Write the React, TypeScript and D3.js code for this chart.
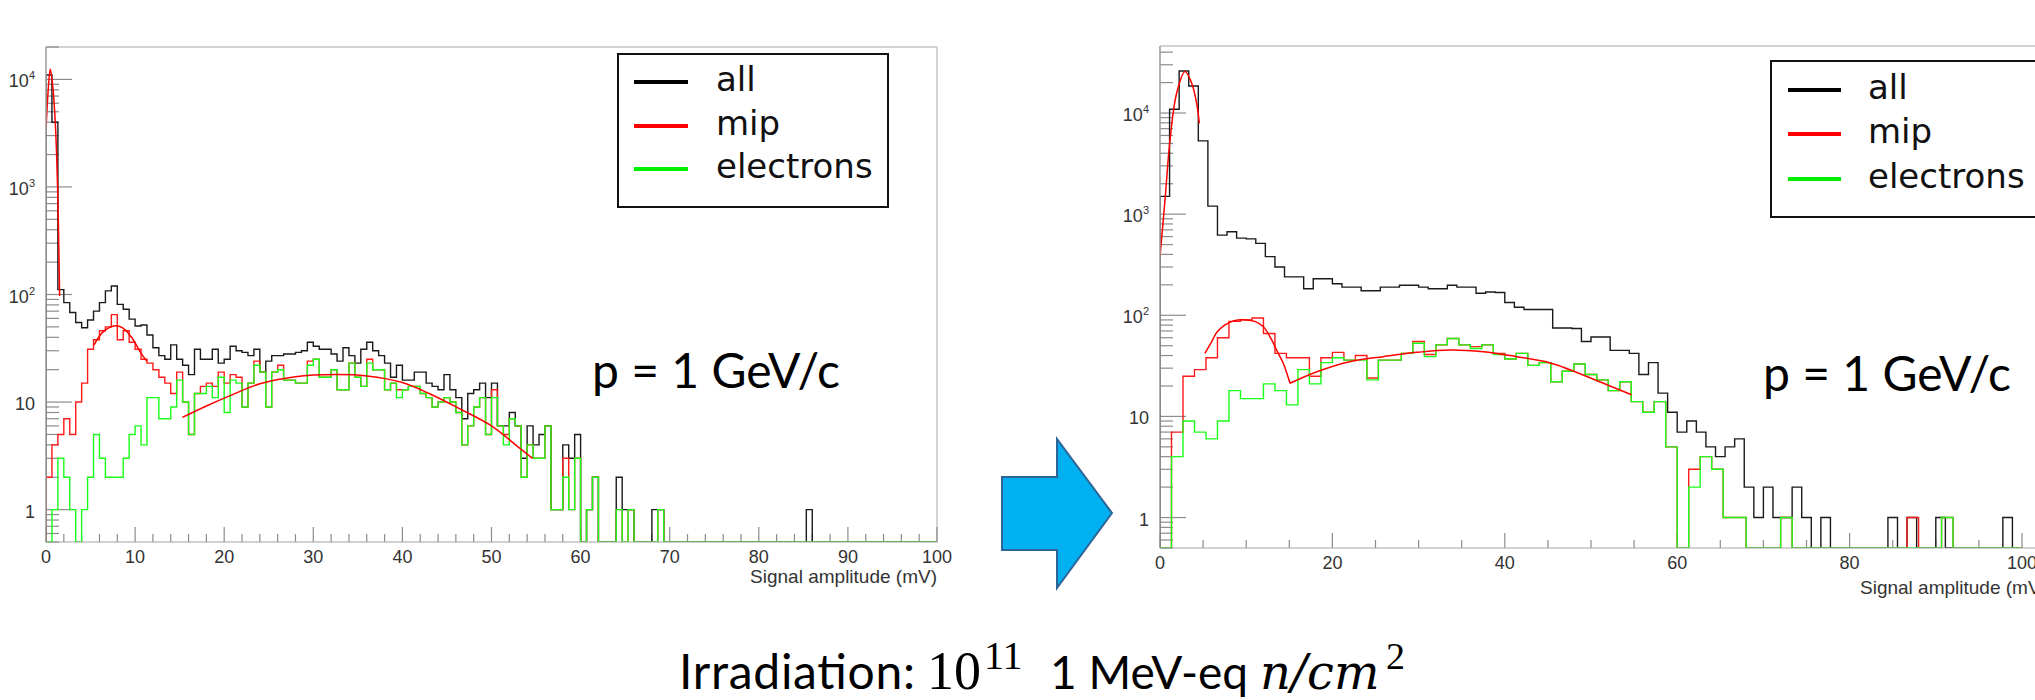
import React from 'react';
import * as d3 from 'd3';

// ---- left panel (before irradiation), 150 bins of 0-100 mV ----
const leftAll = [
  11000, 4000, 111, 84, 68, 55, 49, 58, 70, 84,
  108, 120, 81, 73, 59, 51, 52, 42, 32, 27,
  25, 34, 25, 22, 18, 31, 25, 25, 31, 23,
  25, 33, 30, 29, 27, 31, 19, 24, 27, 27,
  28, 28, 29, 30, 36, 33, 31, 31, 28, 24,
  32, 27, 23, 31, 36, 30, 27, 23, 17, 22,
  16, 16, 19, 19, 15, 14, 13, 18, 13, 11,
  7, 12, 13, 15, 11, 15, 6, 6, 8, 6,
  3, 6, 4, 5, 6, 1, 1, 4, 3, 5,
  0, 1, 2, 0, 0, 0, 2, 1, 1, 0,
  0, 0, 1, 1, 0, 0, 0, 0, 0, 0,
  0, 0, 0, 0, 0, 0, 0, 0, 0, 0,
  0, 0, 0, 0, 0, 0, 0, 0, 1, 0,
  0, 0, 0, 0, 0, 0, 0, 0, 0, 0,
  0, 0, 0, 0, 0, 0, 0, 0, 0, 0,
];
const leftMip = [
  2, 4, 5, 7, 5, 10, 15, 31, 38, 46,
  50, 65, 38, 46, 36, 31, 25, 23, 20, 17,
  15, 12, 19, 10, 5, 12, 14, 15, 14, 19,
  15, 18, 17, 9, 15, 24, 19, 9, 19, 22,
  16, 16, 15, 15, 24, 25, 17, 17, 20, 13,
  13, 23, 17, 14, 25, 20, 20, 13, 15, 13,
  13, 14, 14, 12, 11, 9, 10, 11, 10, 8,
  4, 6, 9, 11, 5, 13, 6, 5, 7, 6,
  2, 4, 3, 3, 6, 1, 1, 3, 1, 3,
  0, 1, 2, 0, 0, 0, 1, 0, 1, 0,
  0, 0, 0, 1, 0, 0, 0, 0, 0, 0,
  0, 0, 0, 0, 0, 0, 0, 0, 0, 0,
  0, 0, 0, 0, 0, 0, 0, 0, 0, 0,
  0, 0, 0, 0, 0, 0, 0, 0, 0, 0,
  0, 0, 0, 0, 0, 0, 0, 0, 0, 0,
];
const leftEle = [
  0, 1, 3, 2, 1, 0, 1, 2, 5, 3,
  2, 2, 2, 3, 5, 6, 4, 11, 11, 7,
  7, 9, 16, 10, 5, 12, 12, 14, 11, 17,
  8, 16, 15, 9, 15, 22, 19, 9, 19, 20,
  16, 16, 15, 15, 22, 25, 17, 17, 20, 13,
  13, 23, 17, 14, 23, 20, 20, 13, 15, 11,
  13, 14, 14, 12, 11, 9, 10, 11, 10, 8,
  4, 6, 9, 11, 5, 11, 6, 4, 7, 6,
  2, 4, 3, 3, 6, 1, 1, 2, 1, 3,
  0, 1, 2, 0, 0, 0, 1, 0, 1, 0,
  0, 0, 0, 1, 0, 0, 0, 0, 0, 0,
  0, 0, 0, 0, 0, 0, 0, 0, 0, 0,
  0, 0, 0, 0, 0, 0, 0, 0, 0, 0,
  0, 0, 0, 0, 0, 0, 0, 0, 0, 0,
  0, 0, 0, 0, 0, 0, 0, 0, 0, 0,
];
// fitted curves as [mV, counts]
const leftPedFit = [[0, 3400], [0.25, 8000], [0.48, 12500], [0.75, 8800], [1.04, 4000], [1.3, 1000], [1.53, 97]];
const leftMipFit = [[5.4, 34], [6.3, 44], [7.6, 51], [8.6, 49], [9.6, 40], [10.6, 29], [11.3, 24]];
const leftBroadFit = [[15.3, 7.2], [18, 9.2], [21, 11.8], [24, 14.8], [28, 17.2], [32.5, 18], [36, 17.5], [40, 15.2], [43, 12], [46.5, 8.6], [50, 6], [53.2, 3.7], [54.6, 3.0]];

// ---- right panel (after irradiation): all = 90 bins, mip/electrons = 75 bins ----
const rightAll = [
  1500, 10900, 26000, 18500, 5300, 1200, 620, 670, 580, 570,
  514, 380, 300, 240, 240, 183, 230, 230, 205, 190,
  190, 175, 175, 190, 190, 198, 198, 190, 183, 183,
  198, 190, 190, 165, 170, 168, 134, 120, 114, 114,
  114, 75, 75, 74, 55, 61, 61, 45, 45, 42,
  26, 34, 17, 11, 7, 9, 7, 5, 4, 5,
  6, 2, 1, 2, 1, 1, 2, 1, 0, 1,
  0, 0, 0, 0, 0, 0, 1, 0, 1, 0,
  0, 1, 0, 0, 0, 0, 0, 0, 1, 0,
];
const rightMip = [
  0, 7, 25, 29, 38, 60, 87, 90, 94, 66,
  42, 38, 38, 25, 38, 43, 36, 40, 24, 36,
  36, 42, 55, 41, 51, 59, 51, 49, 51, 42,
  37, 42, 32, 34, 22, 28, 33, 26, 23, 18,
  22, 14, 11, 14, 5, 0, 3, 4, 3, 1,
  1, 0, 0, 0, 1, 0, 0, 0, 0, 0,
  0, 0, 0, 0, 0, 1, 0, 0, 1, 0,
  0, 0, 0, 0, 0,
];
const rightEle = [
  0, 4, 9, 7, 6, 9, 18, 15, 15, 21,
  18, 13, 29, 21, 34, 38, 36, 36, 23, 36,
  36, 42, 53, 39, 51, 59, 51, 47, 51, 41,
  37, 42, 32, 34, 22, 28, 33, 26, 23, 18,
  22, 14, 11, 14, 5, 0, 2, 4, 3, 1,
  1, 0, 0, 0, 1, 0, 0, 0, 0, 0,
  0, 0, 0, 0, 0, 0, 0, 0, 1, 0,
  0, 0, 0, 0, 0,
];
const rightPedFit = [[0, 380], [0.58, 1380], [1.16, 5400], [1.93, 15700], [2.9, 25700], [3.67, 19800], [4.25, 12500], [4.56, 7900]];
const rightMipFit = [[5.2, 42], [6.0, 55], [6.6, 68], [7.5, 80], [8.5, 88], [10, 90], [11, 87], [12, 77], [12.96, 57], [13.6, 44], [14.3, 33.6], [15.08, 21.3]];
const rightBroadFit = [[15.08, 21.3], [18.2, 27.7], [22, 34.8], [25.9, 39], [29.8, 43], [33.6, 45.4], [37.5, 43.7], [41.4, 39], [45.2, 34], [47.4, 29.3], [51.3, 21.5], [54.7, 16.4]];

const legendLabels = ['all', 'mip', 'electrons'];
const legendColors = ['#000000', '#ff0000', '#00ee00'];

const tickFont = '"Liberation Sans", Arial, sans-serif';

function histPath(values, binW, x, y, yFloor) {
  const n = values.length;
  const pts = [[0, 0], ...values.map((v, i) => [i * binW, v]), [n * binW, values[n - 1]], [n * binW, 0]];
  return d3.line()
    .x(d => x(d[0]))
    .y(d => (d[1] > 0 ? y(d[1]) : yFloor))
    .curve(d3.curveStepAfter)(pts);
}

function fitPath(pts, x, y) {
  return d3.line().x(d => x(d[0])).y(d => y(d[1])).curve(d3.curveCatmullRom.alpha(0.5))(pts);
}

const supDigits = { 2: '2', 3: '3', 4: '4' };

function Panel({ id, x0, x1, yTop, yBot, yMax, frameRight, allData, mipData, eleData, allBin, subBin, fits, labelStep, minorStep, labelBase, titleX, titleY, titleAnchor }) {
  const x = d3.scaleLinear().domain([0, 100]).range([x0, x1]);
  const y = d3.scaleLog().domain([0.5, yMax]).range([yBot, yTop]);
  const yTicks = y.ticks();
  const xTicks = x.ticks(100 / minorStep);
  const isMajor = t => Math.abs(Math.log10(t) - Math.round(Math.log10(t))) < 1e-9;
  return (
    <g>
      <defs>
        <clipPath id={id}>
          <rect x={x0} y={yTop} width={frameRight - x0} height={yBot - yTop} />
        </clipPath>
      </defs>
      {/* frame */}
      <line x1={x0} x2={frameRight} y1={yTop} y2={yTop} stroke="#c4c4c4" strokeWidth={1.5} />
      {frameRight < 2035 && <line x1={frameRight} x2={frameRight} y1={yTop} y2={yBot} stroke="#c4c4c4" strokeWidth={1.5} />}
      {/* y ticks */}
      {yTicks.map(t => (
        <line key={'y' + t} x1={x0} x2={x0 + (isMajor(t) ? 26 : 13)} y1={y(t)} y2={y(t)} stroke="#8c8c8c" strokeWidth={1.2} />
      ))}
      {yTicks.filter(isMajor).map(t => {
        const p = Math.round(Math.log10(t));
        return (
          <text key={'yl' + t} x={x0 - 11} y={y(t) + 8} textAnchor="end" fontFamily={tickFont} fontSize={18} fill="#333">
            {p <= 1 ? String(t) : '10'}
            {p > 1 && <tspan fontSize={11} dy={-8}>{supDigits[p]}</tspan>}
          </text>
        );
      })}
      {/* x ticks */}
      {xTicks.map(t => (
        <line key={'x' + t} x1={x(t)} x2={x(t)} y1={yBot} y2={yBot - (t % labelStep === 0 ? 15 : 8)} stroke="#8c8c8c" strokeWidth={1.2} />
      ))}
      {xTicks.filter(t => t % labelStep === 0).map(t => (
        <text key={'xl' + t} x={x(t)} y={labelBase} textAnchor="middle" fontFamily={tickFont} fontSize={18} fill="#333">{t}</text>
      ))}
      <text x={titleX} y={titleY} textAnchor={titleAnchor} fontFamily={tickFont} fontSize={19} fill="#333">Signal amplitude (mV)</text>
      {/* histograms */}
      <g clipPath={`url(#${id})`} fill="none">
        <path d={histPath(allData, allBin, x, y, yBot)} stroke="#1a1a1a" strokeWidth={1.4} />
        <path d={histPath(mipData, subBin, x, y, yBot)} stroke="#ff1a1a" strokeWidth={1.4} />
        <path d={histPath(eleData, subBin, x, y, yBot)} stroke="#1aff1a" strokeWidth={1.4} />
        {fits.map((f, i) => (
          <path key={i} d={fitPath(f, x, y)} stroke="#ff0000" strokeWidth={1.5} />
        ))}
      </g>
      {/* axes */}
      <line x1={x0} x2={x0} y1={yTop} y2={yBot} stroke="#9a9a9a" strokeWidth={1.5} />
      <line x1={x0} x2={frameRight} y1={yBot} y2={yBot} stroke="#9a9a9a" strokeWidth={1.5} opacity={0.6} />
    </g>
  );
}

function Legend({ bx, by, bw, bh, lineX0, lineX1, textX, rows }) {
  return (
    <g>
      <rect x={bx} y={by} width={bw} height={bh} fill="#fff" stroke="#111" strokeWidth={2} />
      {legendLabels.map((lab, i) => (
        <g key={lab}>
          <line x1={lineX0} x2={lineX1} y1={rows[i]} y2={rows[i]} stroke={legendColors[i]} strokeWidth={4} />
          <text x={textX} y={rows[i] + 9} fontFamily='"DejaVu Sans", Verdana, sans-serif' fontSize={34} fill="#111">{lab}</text>
        </g>
      ))}
    </g>
  );
}

export default function App() {
  const serif = '"Liberation Serif", serif';
  return (
    <svg width={2035} height={700} style={{ position: 'absolute', left: 0, top: 0, background: '#fff' }}>
      <Panel id="clipL" x0={46} x1={937} yTop={47} yBot={542} yMax={2e4} frameRight={937}
        allData={leftAll} mipData={leftMip} eleData={leftEle} allBin={100 / 150} subBin={100 / 150}
        fits={[leftPedFit, leftMipFit, leftBroadFit]} labelStep={10} minorStep={2} labelBase={563}
        titleX={937} titleY={583} titleAnchor="end" />
      <Panel id="clipR" x0={1160} x1={2022} yTop={46} yBot={548} yMax={4.6e4} frameRight={2040}
        allData={rightAll} mipData={rightMip} eleData={rightEle} allBin={100 / 90} subBin={100 / 75}
        fits={[rightPedFit, rightMipFit, rightBroadFit]} labelStep={20} minorStep={5} labelBase={569}
        titleX={1860} titleY={594} titleAnchor="start" />

      <Legend bx={618} by={54} bw={270} bh={153} lineX0={634} lineX1={688} textX={716} rows={[82, 126, 169]} />
      <Legend bx={1771} by={61} bw={280} bh={156} lineX0={1788} lineX1={1841} textX={1868} rows={[90, 134, 179]} />

      <text x={592} y={388} fontFamily="Lato, sans-serif" fontSize={48} fill="#000">p = 1 GeV/c</text>
      <text x={1763} y={391} fontFamily="Lato, sans-serif" fontSize={48} fill="#000">p = 1 GeV/c</text>

      {/* arrow */}
      <polygon points="1002,477 1057,477 1057,439 1112,513 1057,588 1057,550 1002,550"
        fill="#00b0f0" stroke="#2f6496" strokeWidth={2} />

      {/* caption */}
      <g fill="#000">
        <text x={679} y={689} fontFamily="Lato, sans-serif" fontSize={48} textLength={236}>Irradiation:</text>
        <text x={927} y={689} fontFamily={serif} fontSize={54}>10</text>
        <text x={984} y={669} fontFamily={serif} fontSize={40}>11</text>
        <text x={1050} y={689} fontFamily="Lato, sans-serif" fontSize={46} textLength={198}>1 MeV-eq</text>
        <text x={1260} y={689} fontFamily='"DejaVu Serif", serif' fontStyle="italic" fontSize={48}>n/cm</text>
        <text x={1386} y={669} fontFamily={serif} fontSize={38}>2</text>
      </g>
    </svg>
  );
}
